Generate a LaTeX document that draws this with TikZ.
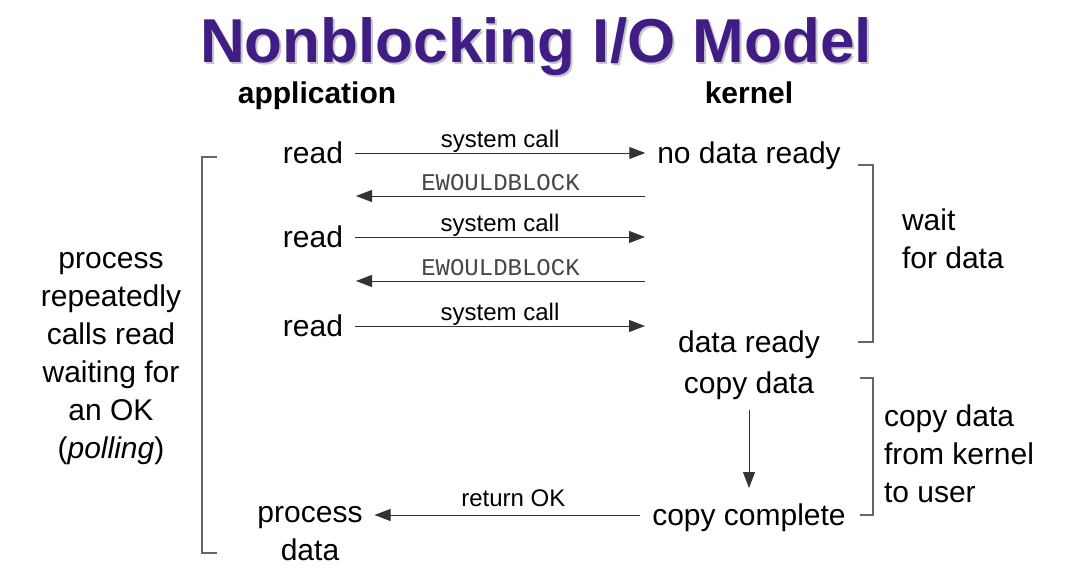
\documentclass[tikz,border=0pt]{standalone}
\usepackage{fontspec}
\setmainfont{Liberation Sans}
\newfontfamily\codefont{Liberation Mono}
\usetikzlibrary{arrows.meta}
\definecolor{titlepurple}{RGB}{64,28,132}
\definecolor{codegray}{RGB}{70,70,70}
\tikzset{
  txt/.style={font=\fontsize{30}{37.5}\selectfont, text height=25.5pt, text depth=4.5pt, inner sep=4pt, outer sep=8pt},
  blk/.style={font=\fontsize{30}{38}\selectfont, inner sep=4pt, outer sep=8pt},
  hdr/.style={font=\fontsize{30}{36}\bfseries\selectfont, anchor=base},
  lbl/.style={font=\fontsize{24}{28}\selectfont, text height=21pt, text depth=3pt, inner sep=2pt},
  code/.style={lbl, font=\fontsize{24}{28}\codefont, text=codegray},
  call/.style={draw=black!80, line width=1pt, -{Triangle[length=16pt,width=12pt]}},
  brak/.style={draw=black!60, line width=1.2pt},
}
\begin{document}
\begin{tikzpicture}[x=1pt,y=-1pt]
\useasboundingbox[fill=white] (0,0) rectangle (1078,578);

\node[font=\fontsize{62}{70}\bfseries\selectfont, text=black!22, anchor=base] (ttlsh) at (538,65) {Nonblocking I/O Model};
\node[font=\fontsize{62}{70}\bfseries\selectfont, text=titlepurple, anchor=base] (ttl) at (536,63) {Nonblocking I/O Model};

\node[hdr] (app) at (317,103) {application};
\node[hdr] (kern) at (749,103) {kernel};

% application side
\node[txt] (rd1) at (313,153) {read};
\node[txt] (rd2) at (313,237) {read};
\node[txt] (rd3) at (313,326) {read};
\node[blk, align=center] (proc) at (310,534) {process\\data};

% kernel side
\node[txt] (nodata) at (749,153) {no data ready};
\node[txt] (dready) at (749,342) {data ready};
\node[txt] (cpdata) at (749,383) {copy data};
\node[txt] (cpdone) at (749,515) {copy complete};

\coordinate (k2) at (645,237);
\coordinate (k3) at (645,326);
\coordinate (kb1) at (645,196);
\coordinate (ab1) at (356,196);
\coordinate (kb2) at (645,281);
\coordinate (ab2) at (356,281);

\draw[call] (rd1) -- node[lbl, above] {system call} (nodata);
\draw[call] (kb1) -- node[code, above] {EWOULDBLOCK} (ab1);
\draw[call] (rd2) -- node[lbl, above] {system call} (k2);
\draw[call] (kb2) -- node[code, above] {EWOULDBLOCK} (ab2);
\draw[call] (rd3) -- node[lbl, above] {system call} (k3);

\draw[call] (cpdata) -- (cpdone);
\draw[call] (cpdone.west) -- node[lbl, above, xshift=6pt, yshift=3pt] {return OK} (cpdone.west -| proc.east);

% brackets
\draw[brak] (217,157) -- (202,157) -- (202,553) -- (217,553);
\draw[brak] (858,165) -- (873,165) -- (873,342) -- (858,342);
\draw[brak] (860,378) -- (873,378) -- (873,515) -- (860,515);

\node[blk, align=center] (poll) at (111,359) {process\\repeatedly\\calls read\\waiting for\\an OK\\(\textit{polling})};
\node[blk, align=left, anchor=west, inner sep=0pt, outer sep=0pt] (wait) at (902,239) {wait\\for data};
\node[blk, align=left, anchor=west, inner sep=0pt, outer sep=0pt] (cpk) at (884,454) {copy data\\from kernel\\to user};
\end{tikzpicture}
\end{document}
